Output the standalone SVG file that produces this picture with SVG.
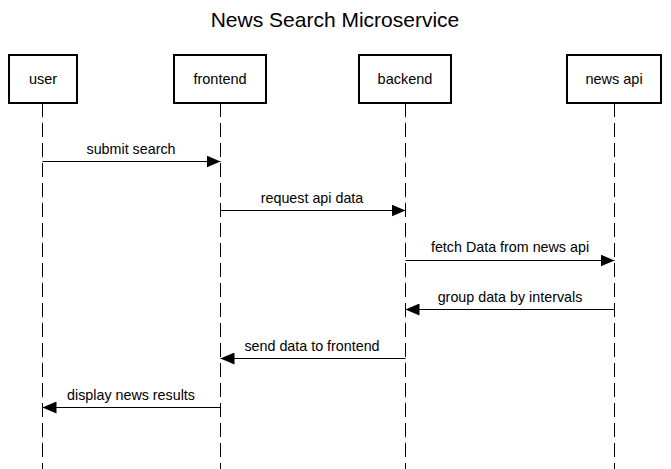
<svg xmlns="http://www.w3.org/2000/svg" width="671" height="469" viewBox="0 0 671 469">
<style>
text{font-family:"Liberation Sans",Arial,Helvetica,sans-serif;fill:#000}
.title{font-size:21px;text-anchor:middle}
.box{fill:#fff;stroke:#000;stroke-width:2}
.lbl{font-size:14.5px;text-anchor:middle}
.life{stroke:#000;stroke-width:1;stroke-dasharray:14,6;fill:none}
.msg{stroke:#000;stroke-width:1;fill:none}
.ml{font-size:14.3px;text-anchor:middle}
</style>
<defs>
<marker id="ah" markerWidth="14" markerHeight="12" refX="14" refY="6" orient="auto" markerUnits="userSpaceOnUse">
<path d="M0,0 L14,6 L0,12 Z" fill="#000"/>
</marker>
</defs>
<rect width="671" height="469" fill="#fff"/>
<text class="title" x="335" y="27">News Search Microservice</text>
<g id="lifelines">
<line class="life" x1="42.5" y1="103" x2="42.5" y2="469"/>
<line class="life" x1="220.5" y1="103" x2="220.5" y2="469"/>
<line class="life" x1="405.5" y1="103" x2="405.5" y2="469"/>
<line class="life" x1="614.5" y1="103" x2="614.5" y2="469"/>
</g>
<g id="user"><rect class="box" x="9" y="55" width="68" height="48"/><text class="lbl" x="43" y="84">user</text></g>
<g id="frontend"><rect class="box" x="174" y="55" width="92" height="48"/><text class="lbl" x="220" y="84">frontend</text></g>
<g id="backend"><rect class="box" x="359" y="55" width="92" height="48"/><text class="lbl" x="405" y="84">backend</text></g>
<g id="newsapi"><rect class="box" x="567" y="55" width="94" height="48"/><text class="lbl" x="614" y="84">news api</text></g>
<g id="connectors">
<line class="msg" x1="42.5" y1="161.5" x2="220.5" y2="161.5" marker-end="url(#ah)"/>
<text class="ml" x="131" y="154">submit search</text>
<line class="msg" x1="220.5" y1="210.5" x2="405.5" y2="210.5" marker-end="url(#ah)"/>
<text class="ml" x="312" y="203">request api data</text>
<line class="msg" x1="405.5" y1="260.5" x2="614.5" y2="260.5" marker-end="url(#ah)"/>
<text class="ml" x="510" y="252">fetch Data from news api</text>
<line class="msg" x1="614.5" y1="309.5" x2="405.5" y2="309.5" marker-end="url(#ah)"/>
<text class="ml" x="510" y="302">group data by intervals</text>
<line class="msg" x1="405.5" y1="358.5" x2="220.5" y2="358.5" marker-end="url(#ah)"/>
<text class="ml" x="312" y="351">send data to frontend</text>
<line class="msg" x1="220.5" y1="407.5" x2="42.5" y2="407.5" marker-end="url(#ah)"/>
<text class="ml" x="131" y="400">display news results</text>
</g>
</svg>
